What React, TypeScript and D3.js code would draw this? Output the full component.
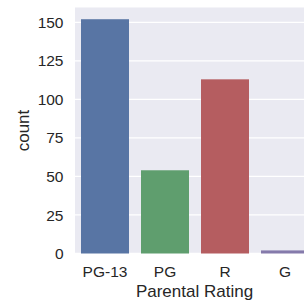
import React from "react";
import * as d3 from "d3";

const categories = ["PG-13", "PG", "R", "G"];
const counts = [152, 54, 113, 2];
const colors = ["#5875a4", "#5f9e6e", "#b55d60", "#857aab"];
const yTicks = [0, 25, 50, 75, 100, 125, 150];

export default function App() {
  const W = 304, H = 304;
  const left = 75, top = 7.5, bottom = 253.5, right = 315;
  const x = d3.scaleBand<string>().domain(categories).range([left, right]).paddingInner(0.2).paddingOuter(0.1);
  const yMax = d3.max(counts)! * 1.05;
  const y = d3.scaleLinear().domain([0, yMax]).range([bottom, top]);
  const font = "'Liberation Sans', Arial, sans-serif";
  return (
    <svg width={W} height={H} style={{ position: "absolute", left: 0, top: 0, background: "#fff" }}>
      <rect x={left} y={top} width={right - left} height={bottom - top} fill="#EAEAF2" />
      {yTicks.map((t) => (
        <g key={t}>
          <line x1={left} x2={right} y1={y(t)} y2={y(t)} stroke="#fff" strokeWidth={1.3} />
          <text x={63.5} y={y(t)} dy="0.36em" textAnchor="end" fontFamily={font} fontSize={15.5} fill="#262626">{t}</text>
        </g>
      ))}
      {categories.map((c, i) => (
        <rect key={c} x={x(c)!} y={y(counts[i])} width={x.bandwidth()} height={bottom - y(counts[i])} fill={colors[i]} />
      ))}
      {categories.map((c) => (
        <text key={c} x={x(c)! + x.bandwidth() / 2} y={277} textAnchor="middle" fontFamily={font} fontSize={15.5} fill="#262626">{c}</text>
      ))}
      <text x={194.5} y={297} textAnchor="middle" fontFamily={font} fontSize={17} fill="#262626">Parental Rating</text>
      <text transform={`translate(28.5,${(top + bottom) / 2}) rotate(-90)`} textAnchor="middle" fontFamily={font} fontSize={17} fill="#262626">count</text>
    </svg>
  );
}
